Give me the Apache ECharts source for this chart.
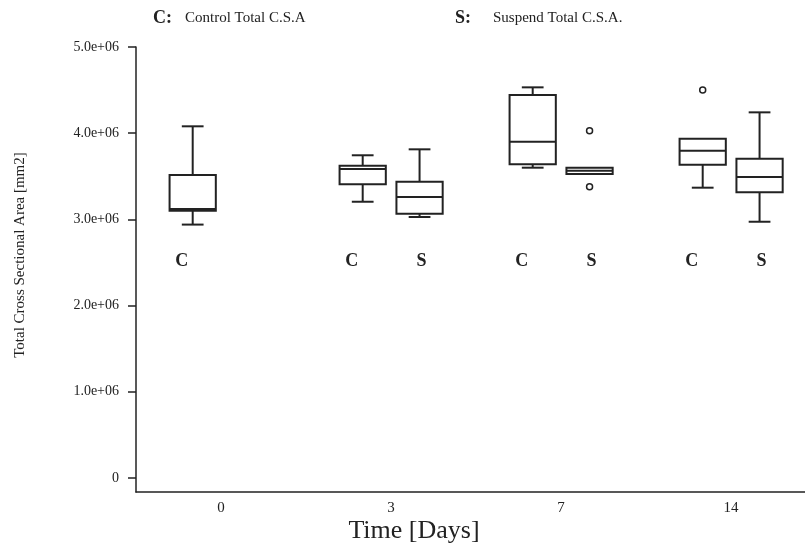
<!DOCTYPE html>
<html>
<head>
<meta charset="utf-8">
<script src="https://cdn.jsdelivr.net/npm/echarts@6/dist/echarts.min.js"></script>
<style>
html,body{margin:0;padding:0;background:#fff;}
#chart{width:805px;height:545px;}
</style>
</head>
<body>
<div id="chart"></div>
<script>
// ---- data ----
const categories = ['0', '3', '7', '14'];
// [min, Q1, median, Q3, max] per day; null = no box
const controlBoxes = [
  [2.94e6, 3.10e6, 3.12e6, 3.515e6, 4.08e6],
  [3.205e6, 3.407e6, 3.585e6, 3.623e6, 3.744e6],
  [3.60e6, 3.639e6, 3.901e6, 4.443e6, 4.532e6],
  [3.368e6, 3.635e6, 3.797e6, 3.936e6, 3.936e6]
];
const suspendBoxes = [
  null,
  [3.028e6, 3.066e6, 3.26e6, 3.437e6, 3.813e6],
  [3.527e6, 3.527e6, 3.565e6, 3.600e6, 3.600e6],
  [2.973e6, 3.314e6, 3.492e6, 3.704e6, 4.242e6]
];
// [day index, value]
const controlOutliers = [[3, 4.501e6]];
const suspendOutliers = [[2, 4.029e6], [2, 3.379e6]];
const yTickValues = [0, 1e6, 2e6, 3e6, 4e6, 5e6];
const yTickLabels = ['0', '1.0e+06', '2.0e+06', '3.0e+06', '4.0e+06', '5.0e+06'];
const groupLetters = ['C', 'S'];
const legendKeys = ['C:', 'S:'];
const legendTexts = ['Control Total C.S.A', 'Suspend Total C.S.A.'];
const xTitle = 'Time [Days]';
const yTitle = 'Total Cross Sectional Area [mm2]';

// ---- style / layout constants ----
const INK = '#222';
const SERIF = '"Liberation Serif", "Times New Roman", serif';
const OFFSET = [-0.1665, 0.168];   // box centre offset as fraction of band
const BOX_W = 0.272;
const CAP_W = 0.128;
const LETTER_LEVEL = 2.51e6;
const LETTER_DX = [-11, 2];

function toRows(boxes) {
  const rows = [];
  boxes.forEach((b, i) => { if (b) rows.push([i].concat(b)); });
  return rows;
}

function makeBoxRender(k) {
  return function (params, api) {
    const cat = api.value(0);
    const bw = api.size([1, 0])[0];
    const cx = api.coord([cat, 0])[0] + OFFSET[k] * bw;
    const half = bw * BOX_W / 2;
    const capHalf = bw * CAP_W / 2;
    const y = (i) => api.coord([cat, api.value(i)])[1];
    const yMin = y(1), yQ1 = y(2), yMed = y(3), yQ3 = y(4), yMax = y(5);
    const ls = { stroke: INK, lineWidth: 2, fill: null };
    const ch = [];
    if (yMax < yQ3 - 0.5) {
      ch.push({ type: 'line', shape: { x1: cx, y1: yQ3, x2: cx, y2: yMax }, style: ls });
      ch.push({ type: 'line', shape: { x1: cx - capHalf, y1: yMax, x2: cx + capHalf, y2: yMax }, style: ls });
    }
    if (yMin > yQ1 + 0.5) {
      ch.push({ type: 'line', shape: { x1: cx, y1: yQ1, x2: cx, y2: yMin }, style: ls });
      ch.push({ type: 'line', shape: { x1: cx - capHalf, y1: yMin, x2: cx + capHalf, y2: yMin }, style: ls });
    }
    ch.push({ type: 'rect', shape: { x: cx - half, y: yQ3, width: half * 2, height: yQ1 - yQ3 }, style: { stroke: INK, lineWidth: 2, fill: '#fff' } });
    ch.push({ type: 'line', shape: { x1: cx - half, y1: yMed, x2: cx + half, y2: yMed }, style: ls });
    const ly = api.coord([cat, LETTER_LEVEL])[1];
    ch.push({ type: 'text', x: cx + LETTER_DX[k], y: ly, style: { text: groupLetters[k], font: 'bold 18px ' + SERIF, fill: INK, align: 'center', verticalAlign: 'middle' } });
    return { type: 'group', children: ch };
  };
}

function makeOutlierRender(k) {
  return function (params, api) {
    const cat = api.value(0);
    const bw = api.size([1, 0])[0];
    const p = api.coord([cat, api.value(1)]);
    return { type: 'circle', shape: { cx: p[0] + OFFSET[k] * bw, cy: p[1], r: 3 }, style: { stroke: INK, lineWidth: 1.5, fill: '#fff' } };
  };
}

const chart = echarts.init(document.getElementById('chart'), null, { renderer: 'canvas' });
chart.setOption({
  backgroundColor: '#fff',
  animation: false,
  grid: { left: 136, top: 47, right: -11, bottom: 53, containLabel: false, outerBoundsMode: 'none' },
  xAxis: {
    type: 'category',
    data: categories,
    boundaryGap: true,
    axisLine: { onZero: false, lineStyle: { color: INK, width: 1.5 } },
    axisTick: { show: false },
    axisLabel: { color: INK, fontFamily: SERIF, fontSize: 15, margin: 9 },
    splitLine: { show: false }
  },
  yAxis: {
    type: 'value',
    min: -0.162e6,
    max: 5e6,
    axisLine: { show: true, lineStyle: { color: INK, width: 1.5 } },
    axisTick: { show: true, length: 8, lineStyle: { color: INK, width: 1.5 }, customValues: yTickValues },
    axisLabel: {
      color: INK, fontFamily: SERIF, fontSize: 14, margin: 17,
      customValues: yTickValues,
      formatter: (v) => { const i = yTickValues.indexOf(v); return i >= 0 ? yTickLabels[i] : ''; }
    },
    splitLine: { show: false }
  },
  graphic: [
    { type: 'text', left: 153, top: 9, style: { text: legendKeys[0], font: 'bold 18px ' + SERIF, fill: INK } },
    { type: 'text', left: 185, top: 11, style: { text: legendTexts[0], font: '15px ' + SERIF, fill: INK } },
    { type: 'text', left: 455, top: 9, style: { text: legendKeys[1], font: 'bold 18px ' + SERIF, fill: INK } },
    { type: 'text', left: 493, top: 11, style: { text: legendTexts[1], font: '15px ' + SERIF, fill: INK } },
    { type: 'text', x: 414, y: 531, style: { text: xTitle, font: '26px ' + SERIF, fill: INK, align: 'center', verticalAlign: 'middle' } },
    { type: 'text', x: 20, y: 255, rotation: Math.PI / 2, style: { text: yTitle, font: '15px ' + SERIF, fill: INK, align: 'center', verticalAlign: 'middle' } }
  ],
  series: [
    { type: 'custom', name: 'Control', renderItem: makeBoxRender(0), data: toRows(controlBoxes), encode: { x: 0, y: [1, 2, 3, 4, 5] }, clip: false },
    { type: 'custom', name: 'Suspend', renderItem: makeBoxRender(1), data: toRows(suspendBoxes), encode: { x: 0, y: [1, 2, 3, 4, 5] }, clip: false },
    { type: 'custom', name: 'Control outliers', renderItem: makeOutlierRender(0), data: controlOutliers, encode: { x: 0, y: 1 } },
    { type: 'custom', name: 'Suspend outliers', renderItem: makeOutlierRender(1), data: suspendOutliers, encode: { x: 0, y: 1 } }
  ]
});
</script>
</body>
</html>
